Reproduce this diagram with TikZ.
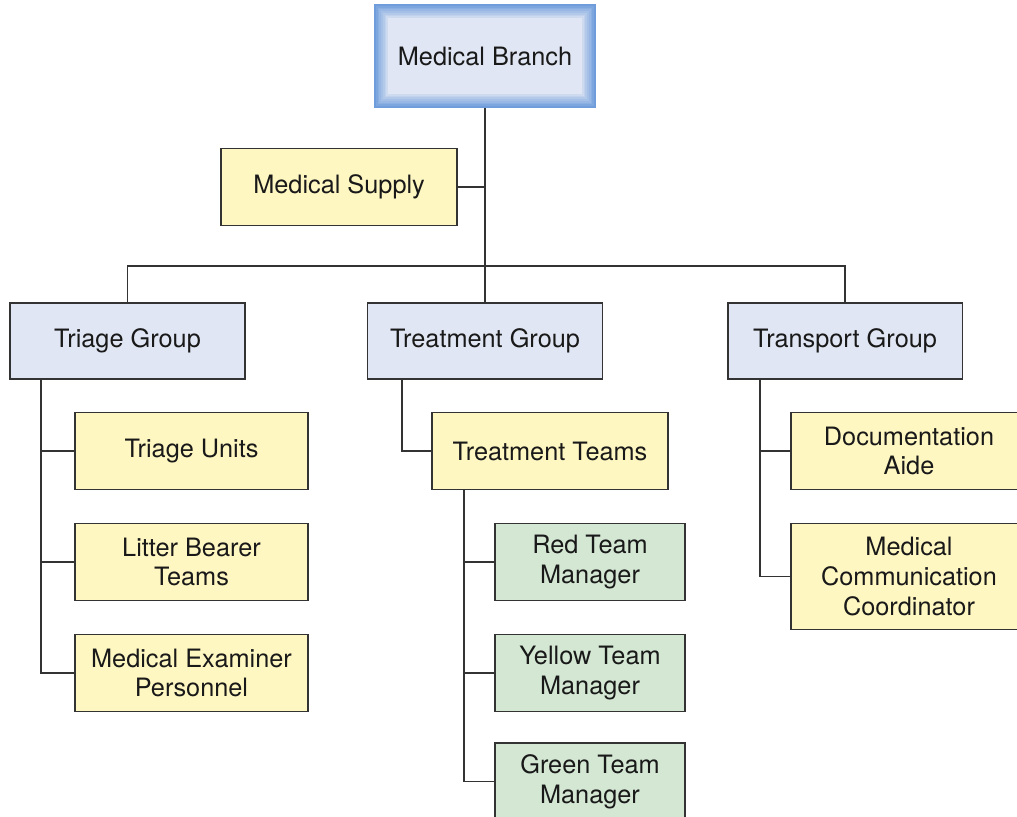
\documentclass[tikz,border=0pt]{standalone}
\usepackage{fontspec}
\setmainfont{TeX Gyre Heros}
\usetikzlibrary{positioning}
\definecolor{boxyellow}{HTML}{FFF7C2}
\definecolor{boxblue}{HTML}{E0E6F3}
\definecolor{boxgreen}{HTML}{D3E7D3}
\definecolor{edgegray}{HTML}{333333}
\definecolor{branchblue}{HTML}{6F9DDB}

\begin{document}
\begin{tikzpicture}[x=0.02cm, y=-0.02cm, line width=1.1pt, draw=edgegray,
  every node/.style={rectangle, draw=edgegray, align=center, text=black!90, inner sep=2pt, font=\fontsize{14.4}{17}\selectfont},
  yellowbox/.style={fill=boxyellow, minimum width=4.7cm, minimum height=1.54cm},
  groupbox/.style={fill=boxblue, minimum width=4.7cm, minimum height=1.52cm},
  teambox/.style={fill=boxgreen, minimum width=3.8cm, minimum height=1.54cm}]
\useasboundingbox (0,0) rectangle (1017,816);

\node[fill=boxblue, draw=none, minimum width=4.4cm, minimum height=2.04cm] (branch) at (485,56) {Medical Branch};
\foreach \k [evaluate=\k as \p using int(100-12*\k)] in {0,...,7}
  \draw[draw=branchblue!\p!boxblue, line width=1.05pt]
    ([xshift=\k pt+0.5pt, yshift=-\k pt-0.5pt]branch.north west) rectangle ([xshift=-\k pt-0.5pt, yshift=\k pt+0.5pt]branch.south east);
\node[yellowbox, minimum width=4.72cm] (supply) at (339,187) {Medical Supply};

\node[groupbox] (triage) at (127.5,341) {Triage Group};
\node[groupbox] (treat) at (485,341) {Treatment Group};
\node[groupbox] (transp) at (845,341) {Transport Group};

\node[yellowbox, minimum width=4.66cm] (units) at (191.5,451) {Triage Units};
\node[yellowbox, minimum width=4.66cm] (litter) at (191.5,562) {Litter Bearer\\Teams};
\node[yellowbox, minimum width=4.66cm] (examiner) at (191.5,673) {Medical Examiner\\Personnel};

\node[yellowbox, minimum width=4.72cm] (teams) at (550,451) {Treatment Teams};
\node[teambox] (red) at (590,562) {Red Team\\Manager};
\node[teambox] (yellow) at (590,673) {Yellow Team\\Manager};
\node[teambox] (green) at (590,781.5) {Green Team\\Manager};

\node[yellowbox, minimum width=4.72cm] (docu) at (909,451) {Documentation\\Aide};
\node[yellowbox, minimum width=4.72cm, minimum height=2.12cm] (comm) at (909,576.5) {Medical\\Communication\\Coordinator};

\coordinate (bus) at (485,266);
\coordinate (tgtrunk) at (41,379);
\coordinate (trtrunk) at (402,379);
\coordinate (tmtrunk) at (464,490);
\coordinate (tptrunk) at (760,379);

\draw (branch.south) -- (treat.north);
\draw (supply.east) -- (supply.east -| branch.south);
\draw (triage.north) |- (bus) -| (transp.north);

\draw (tgtrunk) |- (examiner.west);
\draw (tgtrunk |- units.west) -- (units.west);
\draw (tgtrunk |- litter.west) -- (litter.west);

\draw (trtrunk) |- (teams.west);

\draw (tmtrunk) |- (green.west);
\draw (tmtrunk |- red.west) -- (red.west);
\draw (tmtrunk |- yellow.west) -- (yellow.west);

\draw (tptrunk) |- (comm.west);
\draw (tptrunk |- docu.west) -- (docu.west);
\end{tikzpicture}
\end{document}
